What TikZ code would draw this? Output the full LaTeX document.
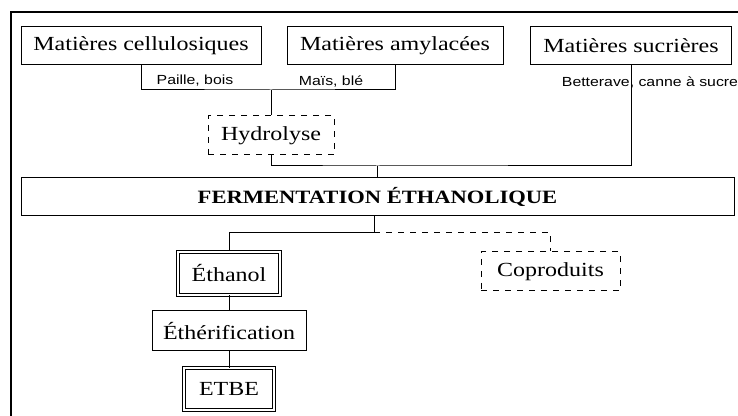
\documentclass[tikz,border=0pt]{standalone}
\usepackage{fontspec}
\setmainfont[FakeStretch=1.2]{Liberation Serif}
\newfontfamily\lblfont[FakeStretch=1.2]{Liberation Sans}
\usepackage{tikz}

\tikzset{
box/.style={draw, line width=0.5pt, rectangle, inner sep=0pt, font=\fontsize{10}{12}\selectfont},
dbox/.style={box, double, double distance=1pt},
hbox/.style={box, dashed},
lbl/.style={inner sep=0pt, font=\lblfont\fontsize{6.6}{8}\selectfont},
link/.style={line width=0.5pt}
}

\begin{document}
\begin{tikzpicture}[x=0.5pt,y=-0.5pt]
\useasboundingbox (0,0) rectangle (738,416);

\draw[line width=1pt] (11,416)--(11,12)--(738,12);

\node[box,minimum width=120pt,minimum height=19pt] (cell) at (141,46) {Matières cellulosiques};
\node[box,minimum width=108pt,minimum height=19pt] (amyl) at (395,46) {Matières amylacées};
\node[box,minimum width=100.5pt,minimum height=19pt] (sucr) at (631,46) {Matières sucrières};

\node[lbl] (paille) at (195,81) {Paille, bois};
\node[lbl] (mais) at (331,81) {Maïs, blé};
\node[lbl] (bett) at (650,82) {Betterave, canne à sucre};

\node[hbox,minimum width=63pt,minimum height=19.5pt] (hydro) at (271,135.5) {Hydrolyse};
\node[box,minimum width=356.5pt,minimum height=19pt,font=\fontsize{9.4}{12}\selectfont\bfseries] (ferm) at (377.5,197) {FERMENTATION ÉTHANOLIQUE};

\node[dbox,minimum width=51pt,minimum height=21.5pt] (etha) at (229,273.5) {Éthanol};
\node[hbox,minimum width=69.5pt,minimum height=19.5pt] (copro) at (550.5,271.5) {Coproduits};
\node[box,minimum width=77pt,minimum height=20pt] (ether) at (229,331) {Éthérification};
\node[dbox,minimum width=45pt,minimum height=21pt] (etbe) at (229,389) {ETBE};

\coordinate (j1) at (271,90);
\coordinate (j2) at (377,166);
\coordinate (j3) at (374,233);

\draw[link] (cell.south) |- (j1) -| (amyl.south);
\draw[link] (j1) -- (hydro.north);
\draw[link] (hydro.south) |- (j2) -| (sucr.south);
\draw[link] (j2) -- (j2 |- ferm.north);
\draw[link] (j3 |- ferm.south) -- (j3) -| (etha.north);
\draw[link,dashed] (j3) -| (copro.north);
\draw[link] (etha.south) -- (ether.north);
\draw[link] (ether.south) -- (etbe.north);
\end{tikzpicture}
\end{document}
